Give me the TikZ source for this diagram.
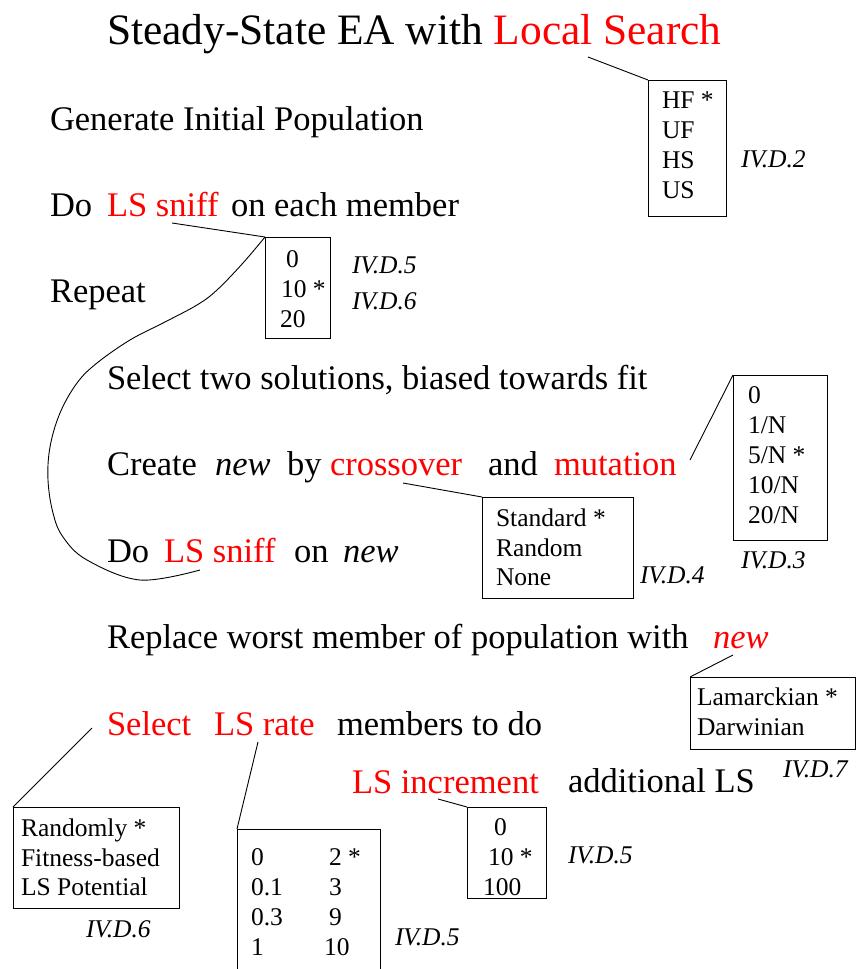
\documentclass[tikz,border=0pt]{standalone}
\usepackage{fontspec}
\setmainfont{Liberation Serif}
\definecolor{hl}{RGB}{255,0,0}
\begin{document}
\begin{tikzpicture}[x=1pt,y=-1pt,
  every node/.style={inner sep=0pt, outer sep=0pt},
  txt/.style={anchor=base west, font=\fontsize{34.5}{40}\selectfont},
  ttl/.style={anchor=base west, font=\fontsize{43.4}{50}\selectfont},
  hot/.style={text=hl},
  opt/.style={anchor=base west, font=\fontsize{25.5}{30}\selectfont},
  ref/.style={anchor=base west, font=\fontsize{25.5}{30}\selectfont\itshape},
  panel/.style={draw, anchor=north west, line width=0.9pt},
  lead/.style={line width=0.9pt}]
\useasboundingbox (0,0) rectangle (856,969);
\clip (0,0) rectangle (856,969);

% algorithm text
\node[ttl] (title) at (107,44) {Steady-State EA with \textcolor{hl}{Local Search}};
\node[txt] (gen) at (50,130) {Generate Initial Population};
\node[txt] (do1) at (50,216) {Do};
\node[txt,hot] (sniff1) at (107,216) {LS sniff};
\node[txt] (each) at (231,216) {on each member};
\node[txt] (rep) at (50,302) {Repeat};
\node[txt] (seltwo) at (107,389) {Select two solutions, biased towards fit};
\node[txt] (create) at (107,475) {Create};
\node[txt] (newa) at (215,475) {\itshape new};
\node[txt] (by) at (287,475) {by};
\node[txt,hot] (xover) at (330,475) {crossover};
\node[txt] (and) at (488,475) {and};
\node[txt,hot] (mut) at (554,475) {mutation};
\node[txt] (do2) at (107,562) {Do};
\node[txt,hot] (sniff2) at (164,562) {LS sniff};
\node[txt] (on2) at (294,562) {on};
\node[txt] (newb) at (343,562) {\itshape new};
\node[txt] (repl) at (107,648) {Replace worst member of population with};
\node[txt,hot] (newc) at (713,648) {\itshape new};
\node[txt,hot] (selx) at (107,735) {Select};
\node[txt,hot] (rate) at (214,735) {LS rate};
\node[txt] (memb) at (337,735) {members to do};
\node[txt,hot] (incr) at (352,793) {LS increment};
\node[txt] (addl) at (568,792) {additional LS};

% option panels
\node[panel, minimum width=78pt, minimum height=136pt] (boxA) at (648,80) {};
\node[panel, minimum width=65pt, minimum height=101pt] (boxB) at (265,237) {};
\node[panel, minimum width=94pt, minimum height=165pt] (boxC) at (733,375) {};
\node[panel, minimum width=151pt, minimum height=101pt] (boxD) at (482,497) {};
\node[panel, minimum width=165pt, minimum height=72pt] (boxE) at (690,677) {};
\node[panel, minimum width=166pt, minimum height=101pt] (boxF) at (13,807) {};
\node[panel, minimum width=143pt, minimum height=170pt] (boxG) at (237,829) {};
\node[panel, minimum width=79pt, minimum height=91pt] (boxH) at (467,807) {};

% panel contents
\node[opt] (a1) at (662,108) {HF *};
\node[opt] (a2) at (662,138) {UF};
\node[opt] (a3) at (662,168) {HS};
\node[opt] (a4) at (662,198) {US};
\node[ref] (ra) at (741,167) {IV.D.2};

\node[opt] (b1) at (286,267) {0};
\node[opt] (b2) at (281,297) {10 *};
\node[opt] (b3) at (280,327) {20};
\node[ref] (rb1) at (352,273) {IV.D.5};
\node[ref] (rb2) at (352,309) {IV.D.6};

\node[opt] (c1) at (748,403) {0};
\node[opt] (c2) at (748,433) {1/N};
\node[opt] (c3) at (748,463) {5/N *};
\node[opt] (c4) at (748,493) {10/N};
\node[opt] (c5) at (748,523) {20/N};
\node[ref] (rc) at (741,568) {IV.D.3};

\node[opt] (d1) at (496,526) {Standard *};
\node[opt] (d2) at (496,556) {Random};
\node[opt] (d3) at (496,585) {None};
\node[ref] (rd) at (640,583) {IV.D.4};

\node[opt] (e1) at (697,705) {Lamarckian *};
\node[opt] (e2) at (697,735) {Darwinian};
\node[ref] (re) at (783,777) {IV.D.7};

\node[opt] (f1) at (21,836) {Randomly *};
\node[opt] (f2) at (21,866) {Fitness-based};
\node[opt] (f3) at (21,895) {LS Potential};
\node[ref] (rf) at (86,937) {IV.D.6};

\node[opt] (g1) at (251,865) {0};
\node[opt] (g2) at (251,895) {0.1};
\node[opt] (g3) at (251,925) {0.3};
\node[opt] (g4) at (251,955) {1};
\node[opt] (g5) at (329,865) {2 *};
\node[opt] (g6) at (329,895) {3};
\node[opt] (g7) at (329,925) {9};
\node[opt] (g8) at (324,955) {10};
\node[ref] (rg) at (395,945) {IV.D.5};

\node[opt] (h1) at (494,835) {0};
\node[opt] (h2) at (488,865) {10 *};
\node[opt] (h3) at (483,895) {100};
\node[ref] (rh) at (568,863) {IV.D.5};

% leader lines from the highlighted words to their panels
\coordinate (kA) at (588,57);
\coordinate (kB) at (172,223);
\coordinate (kB2) at (200,570);
\coordinate (kC) at (690,460);
\coordinate (kD) at (403,483);
\coordinate (kE) at (733,655);
\coordinate (kF) at (92,728);
\coordinate (kG) at (258,742);
\coordinate (kH) at (438,799);

\draw[lead] (kA) -- (boxA.north west);
\draw[lead] (kB) -- (boxB.north west);
% loop back from the sniff panel to the second sniff
\draw[lead] plot[smooth, tension=0.6] coordinates {(boxB.north west) (243,263) (217,290) (197,305) (163,323) (130,340) (97,363) (77,383) (60,413) (50,447) (48,480) (53,513) (63,537) (87,560) (140,580) (kB2)};
\draw[lead] (kC) -- (boxC.north west);
\draw[lead] (kD) -- (boxD.north west);
\draw[lead] (kE) -- (boxE.north west);
\draw[lead] (kF) -- (boxF.north west);
\draw[lead] (kG) -- (boxG.north west);
\draw[lead] (kH) -- (boxH.north west);
\end{tikzpicture}
\end{document}
